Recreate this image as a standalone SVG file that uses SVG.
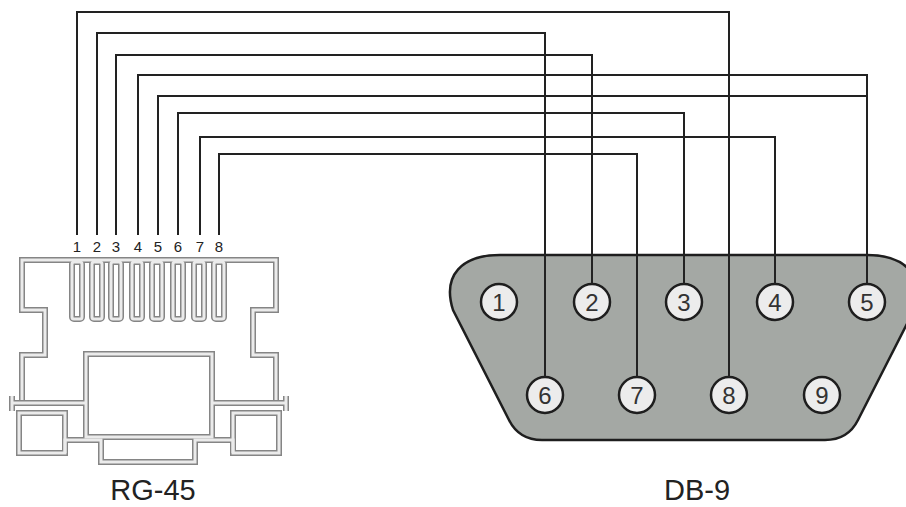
<svg xmlns="http://www.w3.org/2000/svg" width="906" height="507" viewBox="0 0 906 507">
<defs>
<style>
.rjo{fill:none;stroke:#858585;stroke-width:6;stroke-linejoin:miter}
.rji{fill:none;stroke:#ebebeb;stroke-width:3;stroke-linejoin:miter}
.wire{fill:none;stroke:#222;stroke-width:2}
.body{fill:#a4a8a4;stroke:#1e1e1e;stroke-width:2.5}
.pin{fill:#ececec;stroke:#1e1e1e;stroke-width:2.5}
.pn{font-family:"Liberation Sans",Arial,sans-serif;font-size:24px;fill:#333;text-anchor:middle}
.rn{font-family:"Liberation Sans",Arial,sans-serif;font-size:15px;fill:#222;text-anchor:middle}
.lbl{font-family:"Liberation Sans",Arial,sans-serif;font-size:29px;fill:#222;text-anchor:middle}
</style>
<g id="rjshape">
<path d="M22 400 V355 H45 V310 H22 V260 H276 V310 H253 V355 H276 V400"/>
<path d="M12 403 H85 M212 403 H286"/>
<path d="M12 396 V411 M286 396 V411"/>
<rect x="19" y="413" width="46" height="40"/>
<rect x="233" y="413" width="46" height="40"/>
<path d="M65 453 V440 H101 V462 H195 V440 H233 V453"/>
<rect x="86" y="354" width="126" height="83"/>
<rect x="72" y="262" width="10" height="57" rx="2"/>
<rect x="92" y="262" width="10" height="57" rx="2"/>
<rect x="111" y="262" width="10" height="57" rx="2"/>
<rect x="132" y="262" width="10" height="57" rx="2"/>
<rect x="152" y="262" width="10" height="57" rx="2"/>
<rect x="173" y="262" width="10" height="57" rx="2"/>
<rect x="194" y="262" width="10" height="57" rx="2"/>
<rect x="214" y="262" width="10" height="57" rx="2"/>
</g>
</defs>
<rect width="906" height="507" fill="#fff"/>
<g id="rj45">
<use href="#rjshape" class="rjo"/>
<use href="#rjshape" class="rji"/>
<text class="rn" x="77" y="252">1</text>
<text class="rn" x="97" y="252">2</text>
<text class="rn" x="116" y="252">3</text>
<text class="rn" x="138" y="252">4</text>
<text class="rn" x="158" y="252">5</text>
<text class="rn" x="178" y="252">6</text>
<text class="rn" x="200" y="252">7</text>
<text class="rn" x="219" y="252">8</text>
<text class="lbl" x="153" y="500">RG-45</text>
</g>
<g id="db9">
<path class="body" d="M500 255 H867 C905 255 925 275 914 310 L858 420 C852 432 842 440 825 440 H542 C525 440 515 432 509 420 L453 310 C442 275 462 255 500 255 Z"/>
<circle class="pin" cx="499" cy="302" r="18"/>
<circle class="pin" cx="592" cy="302" r="18"/>
<circle class="pin" cx="684" cy="302" r="18"/>
<circle class="pin" cx="775" cy="302" r="18"/>
<circle class="pin" cx="867" cy="302" r="18"/>
<circle class="pin" cx="545" cy="395" r="18"/>
<circle class="pin" cx="637" cy="395" r="18"/>
<circle class="pin" cx="729" cy="395" r="18"/>
<circle class="pin" cx="822" cy="395" r="18"/>
<text class="pn" x="499" y="310.5">1</text>
<text class="pn" x="592" y="310.5">2</text>
<text class="pn" x="684" y="310.5">3</text>
<text class="pn" x="775" y="310.5">4</text>
<text class="pn" x="867" y="310.5">5</text>
<text class="pn" x="545" y="403.5">6</text>
<text class="pn" x="637" y="403.5">7</text>
<text class="pn" x="729" y="403.5">8</text>
<text class="pn" x="822" y="403.5">9</text>
<text class="lbl" x="697" y="500">DB-9</text>
</g>
<g id="connectors">
<path class="wire" d="M77 235 V12 H729 V377"/>
<path class="wire" d="M97 235 V33 H545 V377"/>
<path class="wire" d="M116 235 V55 H592 V284"/>
<path class="wire" d="M138 235 V75 H867 V284"/>
<path class="wire" d="M158 235 V96 H867"/>
<path class="wire" d="M178 235 V113 H684 V284"/>
<path class="wire" d="M200 235 V137 H775 V284"/>
<path class="wire" d="M219 235 V154 H637 V377"/>
</g>
</svg>
